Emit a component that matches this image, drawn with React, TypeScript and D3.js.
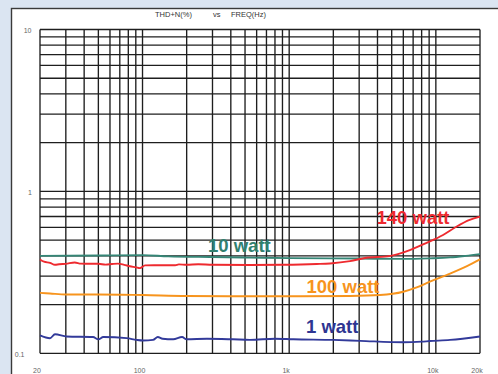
import React from "react";
import * as d3 from "d3";

const xTickLabels = [
  { f: 20, t: "20" },
  { f: 100, t: "100" },
  { f: 1000, t: "1k" },
  { f: 10000, t: "10k" },
  { f: 20000, t: "20k" },
];
const yTickLabels = [
  { v: 10, t: "10" },
  { v: 1, t: "1" },
  { v: 0.1, t: "0.1" },
];

const freq140 = [20, 21.3, 23.4, 25.3, 27, 30, 34.5, 38, 44, 50, 56, 62, 68, 75, 82, 90, 96, 104, 120, 140, 167, 177, 200, 240, 300, 540, 900, 1540, 1900, 2600, 3360, 4800, 6650, 8500, 11200, 13800, 17000, 20000];
const thd140 = [0.38, 0.368, 0.362, 0.352, 0.355, 0.357, 0.364, 0.358, 0.357, 0.357, 0.353, 0.356, 0.358, 0.352, 0.345, 0.34, 0.336, 0.349, 0.35, 0.35, 0.35, 0.354, 0.352, 0.355, 0.352, 0.351, 0.352, 0.356, 0.359, 0.371, 0.389, 0.398, 0.434, 0.478, 0.538, 0.605, 0.666, 0.698];

const freq10 = [20, 50, 100, 150, 300, 540, 1000, 3000, 6000, 9000, 12500, 16000, 20000];
const thd10 = [0.4, 0.402, 0.404, 0.397, 0.393, 0.39, 0.387, 0.385, 0.383, 0.386, 0.391, 0.4, 0.41];

const freq100 = [20, 23.4, 30, 50, 100, 200, 540, 1200, 2600, 4160, 6000, 7400, 9100, 12500, 16300, 20000];
const thd100 = [0.236, 0.234, 0.231, 0.231, 0.229, 0.226, 0.225, 0.225, 0.226, 0.229, 0.24, 0.255, 0.277, 0.311, 0.346, 0.38];

const freq1 = [20, 23.4, 25.3, 30.4, 46, 50, 54, 78, 91, 101, 118, 127, 137, 162, 186, 200, 275, 413, 540, 800, 1070, 2000, 3050, 6000, 8000, 9100, 12500, 20000];
const thd1 = [0.129, 0.124, 0.131, 0.127, 0.126, 0.122, 0.126, 0.124, 0.121, 0.12, 0.121, 0.126, 0.123, 0.122, 0.126, 0.122, 0.123, 0.122, 0.121, 0.123, 0.122, 0.121, 0.1194, 0.117, 0.118, 0.119, 0.121, 0.127];

const gridFreqs = [
  20, 30, 40, 50, 60, 70, 80, 90,
  100, 200, 300, 400, 500, 600, 700, 800, 900,
  1000, 2000, 3000, 4000, 5000, 6000, 7000, 8000, 9000,
  10000, 20000,
];
const gridVals = [
  0.1, 0.2, 0.3, 0.4, 0.5, 0.6, 0.7, 0.8, 0.9,
  1, 2, 3, 4, 5, 6, 7, 8, 9, 10,
];

export default function App() {
  const W = 498;
  const H = 374;
  const x = d3.scaleLog().domain([20, 20000]).range([40, 480]);
  const y = d3.scaleLog().domain([0.1, 10]).range([353.3, 29.5]);

  const line = (fs: number[], vs: number[]) =>
    d3
      .line<number>()
      .x((_, i) => x(fs[i]))
      .y((d) => y(d))
      .curve(d3.curveMonotoneX)(vs) || "";

  const series = [
    { f: freq10, v: thd10, c: "#358676" },
    { f: freq140, v: thd140, c: "#ee2a2f" },
    { f: freq100, v: thd100, c: "#f7941d" },
    { f: freq1, v: thd1, c: "#323a9a" },
  ];

  const yLabelX: Record<string, number> = { "10": 31.5, "1": 32, "0.1": 24.5 };

  return (
    <svg
      width={W}
      height={H}
      style={{ position: "absolute", left: 0, top: 0 }}
      fontFamily="'Liberation Sans', Arial, sans-serif"
    >
      <rect x={0} y={0} width={W} height={H} fill="#dbe5f2" />
      <rect x={11.5} y={8.5} width={600} height={500} fill="#ffffff" stroke="#3a3a3a" strokeWidth={1.4} />
      <text x={155} y={16.5} fontSize={7.5} fill="#333">THD+N(%)</text>
      <text x={213} y={16.5} fontSize={7.5} fill="#333">vs</text>
      <text x={231} y={16.5} fontSize={7.5} fill="#333">FREQ(Hz)</text>

      <g stroke="#1e1e1e" strokeWidth={1.35}>
        {gridFreqs.map((f) => (
          <line key={"v" + f} x1={x(f)} x2={x(f)} y1={y(0.1)} y2={y(10)} />
        ))}
        {gridVals.map((v) => (
          <line key={"h" + v} x1={x(20)} x2={x(20000)} y1={y(v)} y2={y(v)} />
        ))}
      </g>

      {yTickLabels.map((d) => (
        <text key={d.t} x={yLabelX[d.t]} y={y(d.v) + 3.5} fontSize={7} fill="#666" textAnchor="end">
          {d.t}
        </text>
      ))}
      {xTickLabels.map((d) => (
        <text key={d.t} x={x(d.f) - 3} y={373} fontSize={7} fill="#666" textAnchor="middle">
          {d.t}
        </text>
      ))}

      {series.map((s, i) => (
        <path key={i} d={line(s.f, s.v)} fill="none" stroke={s.c} strokeWidth={1.9} />
      ))}

      <g fontWeight="bold" fontSize={18.5}>
        <text x={376.5} y={224} fill="#ee2a2f">140 watt</text>
        <text x={208} y={252.3} fill="#31806f">10 watt</text>
        <text x={306.5} y={293.3} fill="#f7941d">100 watt</text>
        <text x={306} y={333.3} fill="#2e3592">1 watt</text>
      </g>
    </svg>
  );
}
